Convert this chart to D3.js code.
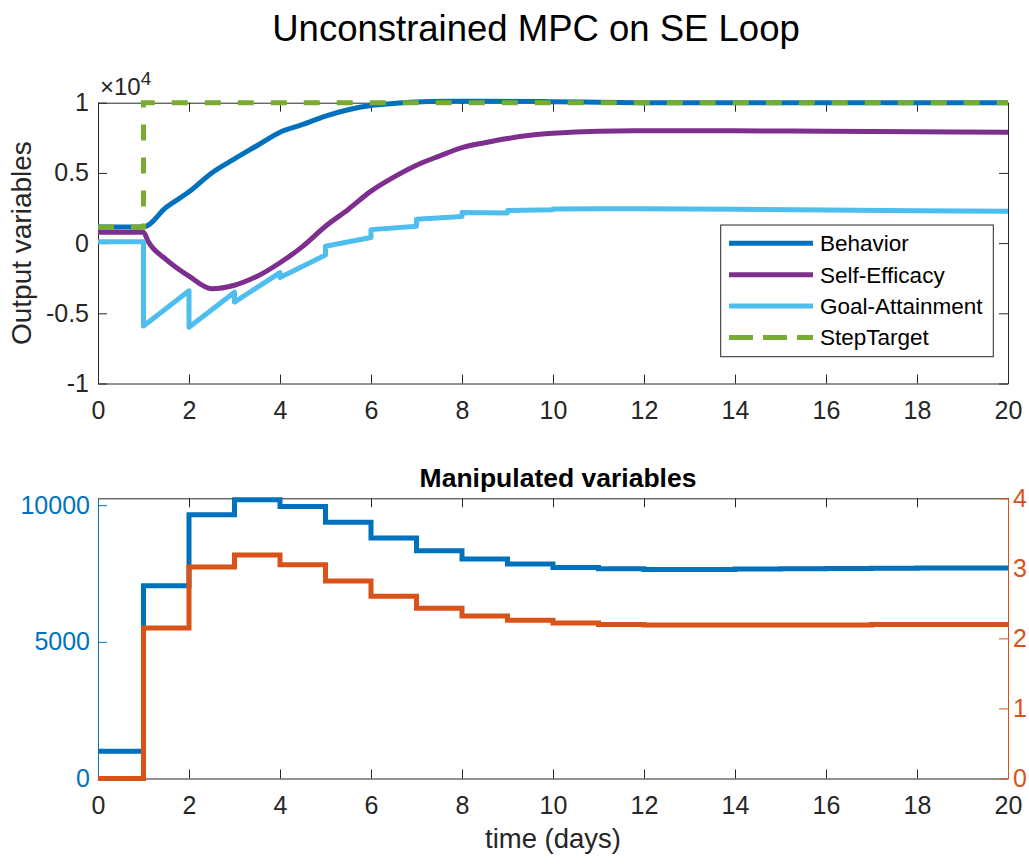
<!DOCTYPE html>
<html><head><meta charset="utf-8">
<script src="https://cdn.jsdelivr.net/npm/d3@7"></script>
<style>
body{margin:0;background:#fff;}
svg{display:block;font-family:"Liberation Sans",Arial,Helvetica,sans-serif;}
</style></head>
<body><svg id="c" width="1029" height="867"></svg>
<script>
// ---------- data ----------
const xTicks = [0,2,4,6,8,10,12,14,16,18,20];
const topYTicks = [-10000,-5000,0,5000,10000];
const seriesNames = ["Behavior","Self-Efficacy","Goal-Attainment","StepTarget"];

const behaviorT = [0,1,1.5,2,2.5,3,3.5,4,4.5,5,5.5,6,6.5,7,7.5,8,9,10,11,12,14,16,18,20];
const behaviorV = [1150,1150,2550,3650,5000,6000,6950,7900,8450,9050,9500,9800,9950,10050,10120,10150,10130,10070,10030,10000,9990,9990,10000,10000];

const selfEffT = [0,1,1.1,1.5,2,2.5,3,3.5,4,4.5,5,5.5,6,6.5,7,7.5,8,8.5,9,9.5,10,11,12,14,16,18,20];
const selfEffV = [770,770,130,-1170,-2350,-3250,-3000,-2360,-1400,-230,1200,2400,3700,4700,5550,6200,6800,7150,7450,7680,7820,7970,8000,8000,7970,7930,7900];

const goalT = [0,1,1,2,2,3,3,4,4,5,5,6,6,7,7,8,8,9,9,10,10,11,12,14,16,18,20];
const goalV = [100,100,-5900,-3400,-6000,-3500,-4200,-2100,-2450,-850,-230,400,960,1200,1700,1900,2180,2150,2330,2370,2430,2450,2450,2410,2350,2300,2260];

const stepT = [0,1,1,20];
const stepV = [1150,1150,10000,10000];

const mvT = [0,1,2,3,4,5,6,7,8,9,10,11,12,13,14,15,16,17,18,19,20];
const mv1 = [1000,7050,9650,10200,9950,9370,8800,8330,8030,7850,7720,7670,7650,7650,7660,7670,7680,7690,7700,7700,7700];
const mv2 = [0,2.15,3.02,3.19,3.05,2.82,2.60,2.43,2.32,2.26,2.22,2.20,2.19,2.19,2.19,2.19,2.19,2.20,2.20,2.20,2.20];
const leftYTicks = [0,5000,10000];
const rightYTicks = [0,1,2,3,4];

// ---------- layout ----------
const svg = d3.select("#c");
const L = 98, R = 1008;
const top1 = 102.7, bot1 = 383.5;
const top2 = 498.3, bot2 = 778.5;
const AX = "#262626";
const C = {blue:"#0072BD", purple:"#7E2F8E", cyan:"#4DBEEE", green:"#77AC30", red:"#D95319"};
const FS = 25;

const x = d3.scaleLinear().domain([0,20]).range([L,R]);
const y1 = d3.scaleLinear().domain([-10000,10000]).range([bot1,top1]);
const yl = d3.scaleLinear().domain([0,10250]).range([bot2,top2]);
const yr = d3.scaleLinear().domain([0,4]).range([bot2,top2]);

svg.append("text").attr("x",536).attr("y",41).attr("text-anchor","middle")
  .attr("font-size",36.5).attr("fill","#000").text("Unconstrained MPC on SE Loop");

function styleAxis(g,color,fs){
  g.selectAll("path").attr("stroke",color).attr("stroke-width",1);
  g.selectAll("line").attr("stroke",color).attr("stroke-width",1);
  g.selectAll("text").attr("fill",color).attr("font-size",fs||FS);
  g.attr("font-family",null).attr("font-size",null);
}

// ---------- top panel ----------
const p1 = svg.append("g");
svg.append("clipPath").attr("id","cl1").append("rect")
  .attr("x",L).attr("y",top1-4).attr("width",R-L+4).attr("height",bot1-top1+8);

const gx1 = p1.append("g").attr("transform",`translate(0,${bot1})`)
  .call(d3.axisBottom(x).tickValues(xTicks).tickSizeInner(-9).tickSizeOuter(0).tickPadding(18).tickFormat(d3.format("d")));
styleAxis(gx1,AX);
const gx1t = p1.append("g").attr("transform",`translate(0,${top1})`)
  .call(d3.axisTop(x).tickValues(xTicks).tickSizeInner(-9).tickSizeOuter(0).tickFormat(""));
styleAxis(gx1t,AX);
const gy1 = p1.append("g").attr("transform",`translate(${L},0)`)
  .call(d3.axisLeft(y1).tickValues(topYTicks).tickSizeInner(-9).tickSizeOuter(0).tickPadding(9)
    .tickFormat(d=>{const v=d/10000; return v===0?"0":String(v);}));
styleAxis(gy1,AX);
const gy1r = p1.append("g").attr("transform",`translate(${R},0)`)
  .call(d3.axisRight(y1).tickValues(topYTicks).tickSizeInner(-9).tickSizeOuter(0).tickFormat(""));
styleAxis(gy1r,AX);

const expo = p1.append("text").attr("x",100).attr("y",95).attr("font-size",24).attr("fill",AX);
expo.append("tspan").text("×10");
expo.append("tspan").attr("dy",-10).attr("font-size",19).text("4");

p1.append("text").attr("transform",`translate(31,${(top1+bot1)/2}) rotate(-90)`)
  .attr("text-anchor","middle").attr("font-size",28).attr("fill",AX).text("Output variables");

const lines1 = p1.append("g").attr("clip-path","url(#cl1)");
const lineSmooth = d3.line().x(d=>x(d[0])).y(d=>y1(d[1])).curve(d3.curveMonotoneX);
const lineLin = d3.line().x(d=>x(d[0])).y(d=>y1(d[1]));
const zip = (a,b)=>a.map((t,i)=>[t,b[i]]);

lines1.append("path").attr("d",lineSmooth(zip(behaviorT,behaviorV)))
  .attr("fill","none").attr("stroke",C.blue).attr("stroke-width",5).attr("stroke-linejoin","round");
lines1.append("path").attr("d",lineSmooth(zip(selfEffT,selfEffV)))
  .attr("fill","none").attr("stroke",C.purple).attr("stroke-width",5).attr("stroke-linejoin","round");
lines1.append("path").attr("d",lineLin(zip(goalT,goalV)))
  .attr("fill","none").attr("stroke",C.cyan).attr("stroke-width",5).attr("stroke-linejoin","round");
lines1.append("path").attr("d",lineLin(zip(stepT,stepV)))
  .attr("fill","none").attr("stroke",C.green).attr("stroke-width",5).attr("stroke-dasharray","16,17");

// legend
const lg = p1.append("g");
const lgX = 720.7, lgY = 225, lgW = 272.6, lgH = 131.7;
lg.append("rect").attr("x",lgX).attr("y",lgY).attr("width",lgW).attr("height",lgH)
  .attr("fill","#fff").attr("stroke",AX).attr("stroke-width",1);
const lgColors = [C.blue,C.purple,C.cyan,C.green];
seriesNames.forEach((n,i)=>{
  const yy = lgY + 18.3 + i*31.4;
  lg.append("line").attr("x1",729).attr("x2",813).attr("y1",yy).attr("y2",yy)
    .attr("stroke",lgColors[i]).attr("stroke-width",5)
    .attr("stroke-dasharray", i===3?"24,10":null);
  lg.append("text").attr("x",820).attr("y",yy).attr("dy","0.35em")
    .attr("font-size",22.5).attr("fill","#000").text(n);
});

// ---------- bottom panel ----------
const p2 = svg.append("g");
p2.append("text").attr("x",558).attr("y",487).attr("text-anchor","middle")
  .attr("font-size",26.5).attr("font-weight","bold").attr("fill","#000").text("Manipulated variables");

const gx2 = p2.append("g").attr("transform",`translate(0,${bot2})`)
  .call(d3.axisBottom(x).tickValues(xTicks).tickSizeInner(-9).tickSizeOuter(0).tickPadding(18).tickFormat(d3.format("d")));
styleAxis(gx2,AX);
const gx2t = p2.append("g").attr("transform",`translate(0,${top2})`)
  .call(d3.axisTop(x).tickValues(xTicks).tickSizeInner(-9).tickSizeOuter(0).tickFormat(""));
styleAxis(gx2t,AX);
const gyl = p2.append("g").attr("transform",`translate(${L},0)`)
  .call(d3.axisLeft(yl).tickValues(leftYTicks).tickSizeInner(-9).tickSizeOuter(0).tickPadding(8)
    .tickFormat(d3.format("d")));
styleAxis(gyl,C.blue);
const gyr = p2.append("g").attr("transform",`translate(${R},0)`)
  .call(d3.axisRight(yr).tickValues(rightYTicks).tickSizeInner(-9).tickSizeOuter(0).tickPadding(5)
    .tickFormat(d3.format("d")));
styleAxis(gyr,C.red,25);

p2.append("text").attr("x",553).attr("y",848).attr("text-anchor","middle")
  .attr("font-size",27.5).attr("fill",AX).text("time (days)");

const stepL = d3.line().x(d=>x(d[0])).y(d=>yl(d[1])).curve(d3.curveStepAfter);
const stepR = d3.line().x(d=>x(d[0])).y(d=>yr(d[1])).curve(d3.curveStepAfter);
p2.append("path").attr("d",stepL(zip(mvT,mv1)))
  .attr("fill","none").attr("stroke",C.blue).attr("stroke-width",5);
p2.append("path").attr("d",stepR(zip(mvT,mv2)))
  .attr("fill","none").attr("stroke",C.red).attr("stroke-width",5);
</script></body></html>
